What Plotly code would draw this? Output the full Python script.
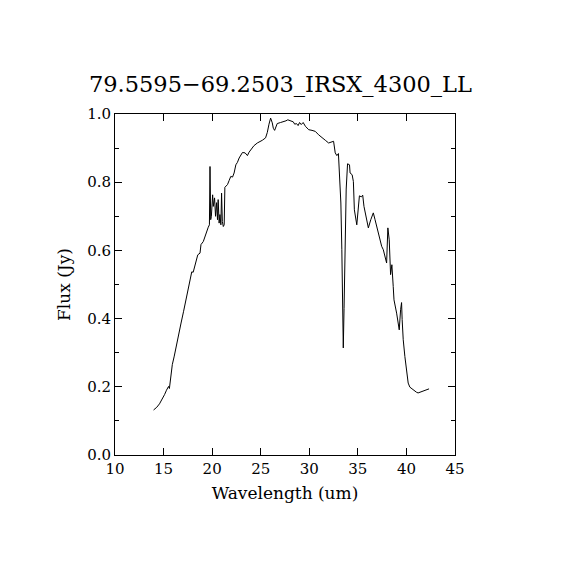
import plotly.graph_objects as go

# spectrum
wavelength = [
    13.97, 14.3, 14.58, 14.85, 15.10, 15.3, 15.51, 15.6, 15.75, 15.9,
    16.1, 16.28, 16.5, 16.8, 17.05, 17.31, 17.55, 17.76, 17.9, 18.05,
    18.2, 18.34, 18.52, 18.75, 18.85, 19.09, 19.3, 19.47, 19.6, 19.72,
    19.78, 19.85, 19.92, 20.05, 20.12, 20.25, 20.35, 20.46, 20.55, 20.62,
    20.72, 20.8, 20.9, 20.97, 21.05, 21.15, 21.24, 21.31, 21.45, 21.58,
    21.75, 21.92, 22.1, 22.26, 22.44, 22.6, 22.78, 22.95, 23.12, 23.39,
    23.63, 23.8, 23.97, 24.3, 24.65, 24.9, 25.17, 25.5, 25.68, 25.85,
    26.02, 26.19, 26.3, 26.43, 26.7, 27.04, 27.38, 27.6, 27.79, 28.07,
    28.35, 28.5, 28.68, 28.85, 29.0, 29.17, 29.37, 29.6, 29.94, 30.28,
    30.62, 30.96, 31.30, 31.65, 31.99, 32.33, 32.5, 32.67, 32.84, 33.0,
    33.1, 33.25, 33.35, 33.45, 33.5, 33.58, 33.71, 33.8, 33.94, 34.14,
    34.2, 34.41, 34.54, 34.64, 34.89, 35.05, 35.16, 35.36, 35.5, 35.63,
    35.84, 36.08, 36.33, 36.59, 36.77, 37.0, 37.28, 37.45, 37.62, 37.79,
    37.96, 38.09, 38.23, 38.37, 38.5, 38.64, 38.72, 38.99, 39.15, 39.26,
    39.4, 39.5, 39.56, 39.67, 39.84, 40.01, 40.18, 40.35, 40.69, 41.04,
    41.2, 41.55, 41.89, 42.33,
]
flux = [
    0.132, 0.140, 0.150, 0.163, 0.177, 0.190, 0.201, 0.195, 0.235, 0.265,
    0.290, 0.318, 0.345, 0.387, 0.420, 0.455, 0.485, 0.509, 0.537, 0.536,
    0.550, 0.563, 0.587, 0.592, 0.617, 0.626, 0.646, 0.659, 0.668, 0.675,
    0.846, 0.690, 0.700, 0.763, 0.729, 0.754, 0.700, 0.740, 0.690, 0.749,
    0.680, 0.705, 0.675, 0.768, 0.685, 0.670, 0.675, 0.785, 0.790, 0.793,
    0.805, 0.817, 0.815, 0.827, 0.851, 0.858, 0.871, 0.880, 0.887, 0.886,
    0.878, 0.888, 0.895, 0.907, 0.915, 0.918, 0.923, 0.930, 0.946, 0.970,
    0.988, 0.974, 0.958, 0.952, 0.972, 0.975, 0.977, 0.980, 0.983, 0.980,
    0.977, 0.970, 0.972, 0.966, 0.975, 0.969, 0.975, 0.964, 0.954, 0.952,
    0.949, 0.939, 0.930, 0.923, 0.915, 0.918, 0.920, 0.886, 0.878, 0.884,
    0.837, 0.739, 0.602, 0.416, 0.314, 0.430, 0.641, 0.780, 0.854, 0.851,
    0.827, 0.822, 0.802, 0.719, 0.675, 0.719, 0.760, 0.757, 0.762, 0.729,
    0.700, 0.666, 0.690, 0.710, 0.690, 0.661, 0.631, 0.612, 0.602, 0.582,
    0.563, 0.666, 0.631, 0.529, 0.558, 0.494, 0.455, 0.416, 0.387, 0.367,
    0.426, 0.447, 0.397, 0.338, 0.289, 0.250, 0.211, 0.199, 0.191, 0.184,
    0.182, 0.186, 0.189, 0.194,
]

title = "79.5595\u221269.2503_IRSX_4300_LL"
font = "DejaVu Serif"

fig = go.Figure()
fig.add_trace(
    go.Scatter(
        x=wavelength,
        y=flux,
        mode="lines",
        line=dict(color="black", width=1),
        showlegend=False,
    )
)

axis_style = dict(
    showline=True,
    linecolor="black",
    linewidth=1,
    mirror="allticks",
    ticks="inside",
    ticklen=7,
    tickcolor="black",
    showgrid=False,
    zeroline=False,
    tickfont=dict(family=font, size=15, color="black"),
)

fig.update_xaxes(
    range=[10, 45],
    dtick=5,
    title=dict(text="Wavelength (um)", font=dict(family=font, size=17, color="black"), standoff=10),
    **axis_style,
)
fig.update_yaxes(
    range=[0, 1],
    dtick=0.2,
    tickformat=".1f",
    minor=dict(ticks="inside", dtick=0.1, ticklen=4, tickcolor="black"),
    title=dict(text="Flux (Jy)", font=dict(family=font, size=17, color="black"), standoff=12),
    **axis_style,
)

# page has an 8px body margin, so the plot box is shifted up/left to compensate
fig.update_layout(
    width=570,
    height=570,
    margin=dict(l=107, r=123, t=106, b=123),
    paper_bgcolor="white",
    plot_bgcolor="white",
    title=dict(
        text=title,
        x=0.478,
        xanchor="center",
        y=1 - 76 / 570,
        yanchor="middle",
        font=dict(family=font, size=22.5, color="black"),
    ),
)

fig.write_html("out.html")
